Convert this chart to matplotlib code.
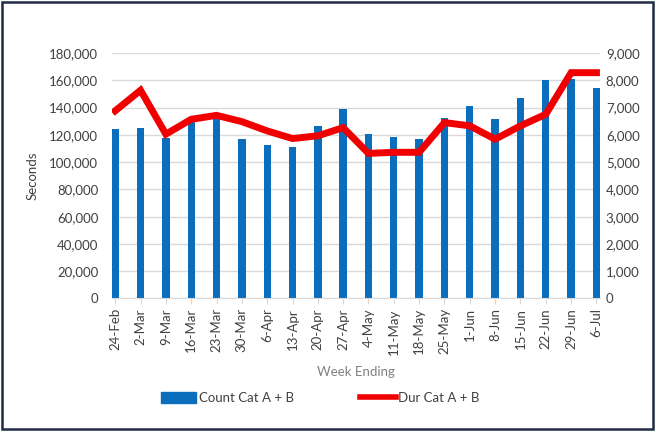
import matplotlib
matplotlib.use("Agg")
import matplotlib.pyplot as plt
from matplotlib.patches import Rectangle
from matplotlib.lines import Line2D
from matplotlib.ticker import FuncFormatter

weeks = ["24-Feb", "2-Mar", "9-Mar", "16-Mar", "23-Mar", "30-Mar", "6-Apr", "13-Apr",
         "20-Apr", "27-Apr", "4-May", "11-May", "18-May", "25-May", "1-Jun", "8-Jun",
         "15-Jun", "22-Jun", "29-Jun", "6-Jul"]
# bars: count (right axis)
count_ab = [6200, 6250, 5900, 6490, 6600, 5850, 5640, 5540, 6320, 6960,
            6020, 5930, 5850, 6610, 7050, 6570, 7360, 8000, 8050, 7710]
# line: duration in seconds (left axis)
dur_ab = [137600, 152700, 120500, 131400, 134300, 129700, 122900, 117300, 119300, 125300,
          106400, 107200, 107200, 129000, 126600, 116800, 126600, 135100, 165600, 165600]

blue = "#0a6ebd"
red = "#f00000"
txt = "#404040"
plt.rcParams["font.family"] = ["Lato", "DejaVu Sans"]

fig = plt.figure(figsize=(6.56, 4.42), dpi=100)
ax = fig.add_axes([0.171, 0.3247, 0.744, 0.5553])
ax2 = ax.twinx()

x = list(range(len(weeks)))
ax2.bar(x, count_ab, width=0.29, color=blue, zorder=2)
ax2.set_ylim(0, 9000)
ax2.set_yticks(range(0, 9001, 1000))
ax2.yaxis.set_major_formatter(FuncFormatter(lambda v, p: f"{int(v):,}"))
ax2.grid(axis="y", color="#d9d9d9", linewidth=1)
ax2.set_axisbelow(True)

ax.plot(x, dur_ab, color=red, linewidth=5, solid_joinstyle="miter", zorder=3)
ax.set_ylim(0, 180000)
ax.set_yticks(range(0, 180001, 20000))
ax.yaxis.set_major_formatter(FuncFormatter(lambda v, p: f"{int(v):,}"))
ax.set_zorder(ax2.get_zorder() + 1)
ax.patch.set_visible(False)
ax.set_xlim(-0.12, 19.15)
ax.set_xticks(x)
ax.set_xticklabels(weeks, rotation=90)

for a in (ax, ax2):
    for s in a.spines.values():
        s.set_visible(False)
    a.tick_params(axis="y", length=0, labelsize=9.5, labelcolor=txt)
ax.spines["bottom"].set_visible(True)
ax.spines["bottom"].set_color("#d9d9d9")
ax.tick_params(axis="x", length=4, color="#d9d9d9", labelsize=9.5, labelcolor=txt, pad=3)
ax.tick_params(axis="y", pad=10)
ax2.tick_params(axis="y", pad=4)

ax.set_ylabel("Seconds", fontsize=9.5, color=txt, labelpad=8)
ax.set_xlabel("Week Ending", fontsize=9.5, color="#808080", labelpad=8)

handles = [Rectangle((0, 0), 1, 1, color=blue),
           Line2D([0], [0], color=red, linewidth=4)]
fig.legend(handles, ["Count Cat A + B", "Dur Cat A + B"], loc="center",
           bbox_to_anchor=(0.488, 0.1), ncol=2, frameon=False, fontsize=9.5,
           handlelength=2.7, handleheight=0.9, handletextpad=0.2, columnspacing=5,
           labelcolor=txt)

fig.patches.append(Rectangle((0.003, 0.029), 0.992, 0.966, transform=fig.transFigure,
                             fill=False, edgecolor="#1f2a44", linewidth=1.8))

fig.savefig("out.png", dpi=100, facecolor="white")
